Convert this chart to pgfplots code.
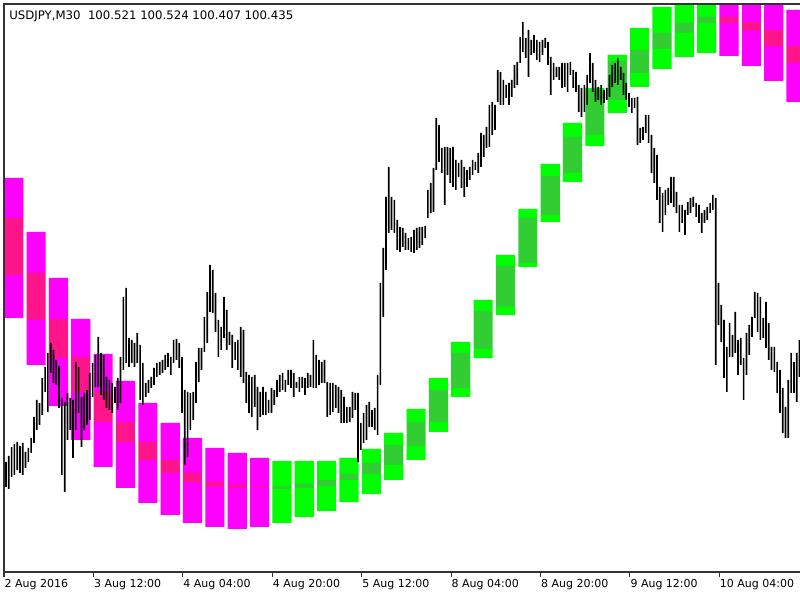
\documentclass[border=0pt]{standalone}
\usepackage{fontspec}
\setmainfont{DejaVu Sans}
\usepackage{pgfplots}
\usepackage{pgfplotstable}
\pgfplotsset{compat=1.18}

\definecolor{mtmag}{RGB}{255,0,255}
\definecolor{mtpink}{RGB}{255,20,140}
\definecolor{mtlime}{RGB}{0,255,0}
\definecolor{mtgreen}{RGB}{50,205,50}

% Higher-timeframe boxes (screen rows: top, inner top, inner bottom, bottom); c=1 magenta, c=0 green
\pgfplotstableread[row sep=\\]{
x top itop ibot bot c\\
2.77 178 218 275 318 1\\
10.77 232 273 320 365 1\\
18.77 278 319 358 406 1\\
26.77 319 357 392 440 1\\
34.77 354 392 422 467 1\\
42.77 381 422 442 488 1\\
50.77 403 442 460 503 1\\
58.77 423 460 473 515 1\\
66.77 438 473 482 523 1\\
74.77 448 482 486 527 1\\
82.77 453 485 488 529 1\\
90.77 458 487 488 527 1\\
98.77 461 486 489 523 0\\
106.77 461 484 488 517 0\\
114.77 461 480 486 511 0\\
122.77 458 474 480 502 0\\
130.77 449 463 474 494 0\\
138.77 433 445 465 480 0\\
146.77 409 422 446 460 0\\
154.77 378 390 422 432 0\\
162.77 342 353 388 397 0\\
170.77 300 311 349 358 0\\
178.77 255 266 307 315 0\\
186.77 209 218 263 267 0\\
194.77 164 176 215 222 0\\
202.77 123 137 173 182 0\\
210.77 88 90 135 146 0\\
218.77 55 61 100 113 0\\
226.77 28 50 73 87 0\\
234.77 7 33 49 69 0\\
242.77 -10 23 33 57 0\\
250.77 -10 17 23 53 0\\
258.77 -10 17 23 56 1\\
266.77 -10 22 30 66 1\\
274.77 -10 30 46 81 1\\
282.77 10 46 63 102 1\\
}\boxes

% M30 bars: screen rows of high and low
\pgfplotstableread[row sep=\\]{
i h l\\
0 462 487\\ 1 456 489\\ 2 447 477\\ 3 444 475\\ 4 442 470\\ 5 446 473\\ 6 443 475\\ 7 452 468\\ 8 448 462\\ 9 438 453\\
10 417 443\\ 11 400 430\\ 12 403 425\\ 13 378 415\\ 14 367 392\\ 15 353 412\\ 16 343 373\\ 17 350 383\\ 18 360 385\\ 19 366 408\\
20 398 475\\ 21 402 492\\ 22 393 440\\ 23 398 430\\ 24 400 458\\ 25 362 430\\ 26 367 413\\ 27 397 447\\ 28 393 430\\ 29 390 425\\
30 373 420\\ 31 363 397\\ 32 355 387\\ 33 337 387\\ 34 353 395\\ 35 355 400\\ 36 377 408\\ 37 380 410\\ 38 383 413\\ 39 387 403\\
40 378 410\\ 41 357 403\\ 42 297 370\\ 43 288 363\\ 44 338 367\\ 45 340 363\\ 46 343 367\\ 47 333 363\\ 48 345 400\\ 49 363 405\\
50 383 397\\ 51 380 393\\ 52 377 388\\ 53 368 385\\ 54 363 377\\ 55 362 375\\ 56 360 373\\ 57 355 370\\ 58 353 367\\ 59 357 375\\
60 340 363\\ 61 339 360\\ 62 343 368\\ 63 357 413\\ 64 390 465\\ 65 392 457\\ 66 393 430\\ 67 392 420\\ 68 362 403\\ 69 348 382\\
70 348 370\\ 71 317 352\\ 72 292 343\\ 73 265 312\\ 74 270 313\\ 75 293 332\\ 76 320 357\\ 77 327 350\\ 78 297 338\\ 79 310 350\\
80 332 345\\ 81 335 368\\ 82 342 360\\ 83 340 370\\ 84 327 377\\ 85 330 383\\ 86 372 403\\ 87 375 413\\ 88 377 417\\ 89 375 407\\
90 387 430\\ 91 392 417\\ 92 387 415\\ 93 392 415\\ 94 400 413\\ 95 388 413\\ 96 390 405\\ 97 380 397\\ 98 375 392\\ 99 373 390\\
100 380 392\\ 101 370 385\\ 102 370 388\\ 103 373 397\\ 104 382 388\\ 105 377 392\\ 106 377 388\\ 107 378 395\\ 108 373 388\\ 109 375 387\\
110 340 388\\ 111 355 388\\ 112 360 385\\ 113 362 383\\ 114 360 383\\ 115 382 417\\ 116 383 415\\ 117 383 412\\ 118 385 408\\ 119 387 413\\
120 390 423\\ 121 397 423\\ 122 407 423\\ 123 407 422\\ 124 392 418\\ 125 393 410\\ 126 393 462\\ 127 423 450\\ 128 413 443\\ 129 405 440\\
130 402 427\\ 131 410 427\\ 132 408 430\\ 133 375 435\\ 134 283 385\\ 135 248 317\\ 136 197 270\\ 137 167 233\\ 138 197 230\\ 139 200 233\\
140 220 250\\ 141 227 252\\ 142 228 247\\ 143 233 250\\ 144 238 250\\ 145 237 252\\ 146 230 253\\ 147 228 250\\ 148 227 248\\ 149 227 245\\
150 226 238\\ 151 190 218\\ 152 183 213\\ 153 168 212\\ 154 118 170\\ 155 125 162\\ 156 148 173\\ 157 147 205\\ 158 147 175\\ 159 148 183\\
160 147 187\\ 161 160 190\\ 162 163 177\\ 163 160 188\\ 164 167 197\\ 165 170 187\\ 166 167 180\\ 167 160 175\\ 168 162 170\\ 169 153 173\\
170 133 167\\ 171 135 157\\ 172 127 148\\ 173 105 147\\ 174 102 135\\ 175 105 130\\ 176 70 102\\ 177 72 105\\ 178 80 105\\ 179 85 98\\
180 83 105\\ 181 80 97\\ 182 65 88\\ 183 62 85\\ 184 37 63\\ 185 22 52\\ 186 38 58\\ 187 30 77\\ 188 40 55\\ 189 35 53\\
190 40 60\\ 191 42 62\\ 192 40 55\\ 193 38 48\\ 194 42 65\\ 195 57 95\\ 196 63 80\\ 197 67 77\\ 198 67 80\\ 199 63 88\\
200 63 87\\ 201 63 92\\ 202 62 75\\ 203 70 88\\ 204 72 92\\ 205 85 112\\ 206 88 117\\ 207 85 112\\ 208 75 105\\ 209 53 83\\
210 63 92\\ 211 80 102\\ 212 87 100\\ 213 85 105\\ 214 90 103\\ 215 88 100\\ 216 75 97\\ 217 65 87\\ 218 63 83\\ 219 58 85\\
220 67 80\\ 221 73 95\\ 222 83 100\\ 223 93 107\\ 224 98 113\\ 225 98 108\\ 226 97 145\\ 227 128 143\\ 228 127 140\\ 229 115 133\\
230 115 143\\ 231 135 173\\ 232 148 183\\ 233 155 200\\ 234 187 223\\ 235 193 232\\ 236 190 215\\ 237 188 205\\ 238 177 203\\ 239 177 207\\
240 192 213\\ 241 205 232\\ 242 205 223\\ 243 210 235\\ 244 202 215\\ 245 198 213\\ 246 197 207\\ 247 203 217\\ 248 205 223\\ 249 213 233\\
250 210 223\\ 251 207 220\\ 252 203 213\\ 253 195 210\\ 254 198 365\\ 255 283 325\\ 256 305 342\\ 257 320 378\\ 258 347 392\\ 259 323 357\\
260 335 357\\ 261 312 353\\ 262 340 375\\ 263 338 365\\ 264 358 400\\ 265 333 375\\ 266 325 355\\ 267 317 337\\ 268 292 318\\ 269 293 332\\
270 297 340\\ 271 318 338\\ 272 302 348\\ 273 323 360\\ 274 347 370\\ 275 347 372\\ 276 362 393\\ 277 370 413\\ 278 388 433\\ 279 407 438\\
280 380 438\\ 281 353 393\\ 282 362 393\\ 283 353 402\\ 284 340 377\\
}\prices

\pgfplotsset{chartaxis/.style={at={(0,0)}, anchor=south west, scale only axis,
  width=597pt, height=426pt, xmin=-0.716, xmax=284.18, ymin=0, ymax=568,
  enlargelimits=false}}

\begin{document}
\begin{tikzpicture}
\useasboundingbox (-3pt,-21pt) rectangle (597pt,429pt);
\begin{axis}[chartaxis, hide axis, ybar stacked, bar width=6.85]
\addplot[draw=none, fill=none] table[x=x, y expr=572-\thisrow{bot}] \boxes;
\addplot[draw=none, fill=mtmag] table[x=x, y expr=\thisrow{c}*(\thisrow{bot}-\thisrow{ibot})] \boxes;
\addplot[draw=none, fill=mtpink] table[x=x, y expr=\thisrow{c}*(\thisrow{ibot}-\thisrow{itop})] \boxes;
\addplot[draw=none, fill=mtmag] table[x=x, y expr=\thisrow{c}*(\thisrow{itop}-\thisrow{top})] \boxes;
\addplot[draw=none, fill=mtlime] table[x=x, y expr=(1-\thisrow{c})*(\thisrow{bot}-\thisrow{ibot})] \boxes;
\addplot[draw=none, fill=mtgreen] table[x=x, y expr=(1-\thisrow{c})*(\thisrow{ibot}-\thisrow{itop})] \boxes;
\addplot[draw=none, fill=mtlime] table[x=x, y expr=(1-\thisrow{c})*(\thisrow{itop}-\thisrow{top})] \boxes;
\end{axis}
\begin{axis}[chartaxis, ybar stacked, bar width=0.6,
  axis x line*=bottom, axis y line*=left,
  axis line style={black!80, line width=1pt},
  ytick=\empty,
  xtick={-0.716,31.284,63.284,95.284,127.284,159.284,191.284,223.284,255.284},
  xticklabels={2 Aug 2016,3 Aug 12:00,4 Aug 04:00,4 Aug 20:00,5 Aug 12:00,8 Aug 04:00,8 Aug 20:00,9 Aug 12:00,10 Aug 04:00},
  tick align=outside, major tick length=3.5pt,
  xtick style={black!80, line width=0.8pt},
  xticklabel style={anchor=north west, inner sep=0pt, xshift=0.3pt, yshift=-1.5pt,
    font=\fontsize{8.25}{10}\selectfont}]
\addplot[draw=none, fill=none] table[x=i, y expr=572-\thisrow{l}] \prices;
\addplot[draw=none, fill=black] table[x=i, y expr=\thisrow{l}-\thisrow{h}] \prices;
\end{axis}
\draw[black!80, line width=1pt] (-0.5pt,426pt) -- (597pt,426pt);
\node[anchor=base west, inner sep=0pt, font=\fontsize{8.8}{10}\selectfont] at (3.75pt,414pt)
  {USDJPY,M30\ \ 100.521 100.524 100.407 100.435};
\end{tikzpicture}
\end{document}
